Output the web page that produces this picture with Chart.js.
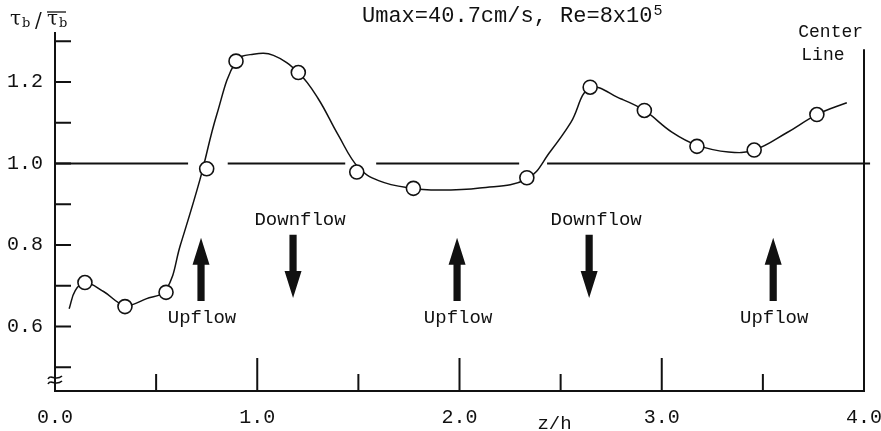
<!DOCTYPE html>
<html lang="en">
<head>
<meta charset="UTF-8">
<title>Wall shear stress distribution</title>
<script src="https://cdn.jsdelivr.net/npm/chart.js"></script>
<style>
    body { margin: 0; background: #fff; }
    .chart-box { width: 881px; height: 431px; position: relative; }
</style>
</head>
<body>
<div class="chart-box"><canvas id="shearChart"></canvas></div>
<script>
// measured points (z/h, tau_b / mean tau_b)
const measuredX = [0.148, 0.346, 0.549, 0.750, 0.895, 1.203, 1.492, 1.772, 2.333, 2.646, 2.914, 3.174, 3.457, 3.767];
const measuredY = [0.708, 0.649, 0.684, 0.987, 1.251, 1.223, 0.979, 0.939, 0.965, 1.187, 1.130, 1.042, 1.033, 1.120];

// hand-drawn fitted curve
const curveX = [0.07, 0.10, 0.148, 0.24, 0.346, 0.45, 0.549, 0.62, 0.717, 0.80, 0.895, 0.98, 1.08, 1.203, 1.30, 1.40,
                1.50, 1.60, 1.75, 1.90, 2.10, 2.333, 2.45, 2.55, 2.646, 2.80, 2.914, 3.05, 3.174, 3.33, 3.457, 3.62,
                3.767, 3.915];
const curveY = [0.644, 0.688, 0.708, 0.686, 0.652, 0.668, 0.690, 0.80, 0.961, 1.12, 1.251, 1.268, 1.265, 1.223, 1.16, 1.07,
                0.99, 0.958, 0.940, 0.935, 0.940, 0.962, 1.03, 1.10, 1.185, 1.158, 1.130, 1.077, 1.045, 1.028, 1.033, 1.076,
                1.120, 1.149];

// the 1.0 reference line is broken in a few places
const refSegments = [[0, 0.658], [0.854, 1.435], [1.588, 2.295], [2.433, 4.03]];
const centerLineX = 4.0;
const centerLineTop = 1.28;

const xLabels = [0, 1, 2, 3, 4];
const xMajorTicks = [1, 2, 3];
const xMinorTicks = [0.5, 1.5, 2.5, 3.5];
const yLabels = [0.6, 0.8, 1.0, 1.2];
const yTickMarks = [0.5, 0.6, 0.7, 0.8, 0.9, 1.0, 1.1, 1.2, 1.3];

const upflowX = [0.722, 1.988, 3.551];
const downflowX = [1.177, 2.641];
const arrowTop = 0.818;
const arrowBottom = 0.663;
const upflowLabelY = 0.622;
const downflowLabelY = 0.862;

const MONO = '"Liberation Mono", "DejaVu Sans Mono", monospace';

let refData = [];
refSegments.forEach((s, i) => {
    if (i > 0) refData.push({ x: (refSegments[i - 1][1] + s[0]) / 2, y: null });
    refData.push({ x: s[0], y: 1.0 }, { x: s[1], y: 1.0 });
});

function arrow(ctx, x, yTail, yTip) {
    const dir = yTip < yTail ? -1 : 1;
    const headLen = 27, headW = 8.5, shaftW = 3.6;
    const yNeck = yTip - dir * headLen;
    ctx.beginPath();
    ctx.moveTo(x - shaftW, yTail);
    ctx.lineTo(x - shaftW, yNeck);
    ctx.lineTo(x - headW, yNeck);
    ctx.lineTo(x, yTip);
    ctx.lineTo(x + headW, yNeck);
    ctx.lineTo(x + shaftW, yNeck);
    ctx.lineTo(x + shaftW, yTail);
    ctx.closePath();
    ctx.fill();
}

const figureExtras = {
    id: 'figureExtras',
    afterDatasetsDraw(chart) {
        const ctx = chart.ctx;
        const xs = chart.scales.x, ys = chart.scales.y;
        const area = chart.chartArea;
        ctx.save();
        ctx.strokeStyle = '#111';
        ctx.fillStyle = '#111';
        ctx.lineWidth = 2;

        // inward tick marks
        ctx.beginPath();
        yTickMarks.forEach(v => {
            const py = ys.getPixelForValue(v);
            ctx.moveTo(area.left, py);
            ctx.lineTo(area.left + 16, py);
        });
        xMajorTicks.forEach(v => {
            const px = xs.getPixelForValue(v);
            ctx.moveTo(px, area.bottom);
            ctx.lineTo(px, area.bottom - 33);
        });
        xMinorTicks.forEach(v => {
            const px = xs.getPixelForValue(v);
            ctx.moveTo(px, area.bottom);
            ctx.lineTo(px, area.bottom - 17);
        });
        ctx.stroke();

        // axis break mark
        ctx.lineWidth = 1.6;
        ctx.beginPath();
        [0, 5].forEach(d => {
            const bx = area.left, by = area.bottom - 13 + d;
            ctx.moveTo(bx - 7, by + 1);
            ctx.bezierCurveTo(bx - 4, by - 5, bx, by + 4, bx + 7, by - 2);
        });
        ctx.stroke();

        // flow arrows
        upflowX.forEach(v => arrow(ctx, xs.getPixelForValue(v), ys.getPixelForValue(arrowBottom), ys.getPixelForValue(arrowTop)));
        downflowX.forEach(v => arrow(ctx, xs.getPixelForValue(v), ys.getPixelForValue(arrowTop) - 3, ys.getPixelForValue(arrowBottom) - 3));

        ctx.font = '19px ' + MONO;
        ctx.textAlign = 'center';
        ctx.textBaseline = 'middle';
        upflowX.forEach(v => ctx.fillText('Upflow', xs.getPixelForValue(v) + 1, ys.getPixelForValue(upflowLabelY)));
        downflowX.forEach(v => ctx.fillText('Downflow', xs.getPixelForValue(v) + 7, ys.getPixelForValue(downflowLabelY)));

        // x axis name sits between the 2.0 and 3.0 labels
        ctx.fillText('z/h', xs.getPixelForValue(2.47), area.bottom + 33);

        // centre line label
        ctx.font = '18px ' + MONO;
        ctx.textAlign = 'left';
        ctx.fillText('Center', xs.getPixelForValue(3.675), ys.getPixelForValue(1.322));
        ctx.fillText('Line', xs.getPixelForValue(3.69), ys.getPixelForValue(1.265));

        // title
        ctx.font = '22px ' + MONO;
        const tx = xs.getPixelForValue(1.518), ty = 16;
        const main = 'Umax=40.7cm/s, Re=8x10';
        ctx.fillText(main, tx, ty);
        const w = ctx.measureText(main).width;
        ctx.font = '15px ' + MONO;
        ctx.fillText('5', tx + w + 1, ty - 5);

        // y axis title: tau_b / mean tau_b
        ctx.font = '20px "DejaVu Serif", serif';
        ctx.textBaseline = 'alphabetic';
        ctx.fillText('τ', 10, 25);
        ctx.fillText('τ', 47, 25);
        ctx.font = '13px "DejaVu Serif", serif';
        ctx.fillText('b', 22, 27);
        ctx.fillText('b', 59, 27);
        ctx.font = '20px "DejaVu Serif", serif';
        ctx.fillText('/', 35, 27);
        ctx.lineWidth = 1.3;
        ctx.beginPath();
        ctx.moveTo(47, 12);
        ctx.lineTo(66, 12);
        ctx.stroke();
        ctx.restore();
    }
};

new Chart(document.getElementById('shearChart'), {
    type: 'scatter',
    data: {
        datasets: [
            {
                label: 'measured',
                data: measuredX.map((x, i) => ({ x, y: measuredY[i] })),
                pointRadius: 7,
                pointBackgroundColor: '#fff',
                pointBorderColor: '#111',
                pointBorderWidth: 1.6,
                showLine: false
            },
            {
                label: 'fit',
                data: curveX.map((x, i) => ({ x, y: curveY[i] })),
                showLine: true,
                pointRadius: 0,
                borderColor: '#111',
                borderWidth: 1.5,
                tension: 0.4,
                clip: false
            },
            {
                label: 'tau = mean',
                data: refData,
                showLine: true,
                spanGaps: false,
                pointRadius: 0,
                borderColor: '#111',
                borderWidth: 2,
                clip: false
            },
            {
                label: 'center line',
                data: [{ x: centerLineX, y: 0.442 }, { x: centerLineX, y: centerLineTop }],
                showLine: true,
                pointRadius: 0,
                borderColor: '#111',
                borderWidth: 2,
                clip: false
            }
        ]
    },
    options: {
        responsive: true,
        maintainAspectRatio: false,
        animation: false,
        layout: { padding: { top: 33, right: 17, left: 0, bottom: 0 } },
        plugins: { legend: { display: false }, tooltip: { enabled: false }, title: { display: false } },
        scales: {
            x: {
                type: 'linear',
                min: 0,
                max: 4,
                afterBuildTicks: s => { s.ticks = xLabels.map(v => ({ value: v })); },
                afterFit: s => { s.height = 40; s.paddingLeft = 0; s.paddingRight = 0; },
                ticks: {
                    callback: v => v.toFixed(1),
                    font: { family: MONO, size: 20 },
                    color: '#111',
                    padding: 15,
                    maxRotation: 0,
                    autoSkip: false
                },
                grid: { display: false, drawTicks: false },
                border: { display: true, color: '#111', width: 2 }
            },
            y: {
                type: 'linear',
                min: 0.442,
                max: 1.32,
                afterBuildTicks: s => { s.ticks = yLabels.map(v => ({ value: v })); },
                afterFit: s => { s.width = 55; s.paddingTop = 0; s.paddingBottom = 0; },
                ticks: {
                    callback: v => v.toFixed(1),
                    font: { family: MONO, size: 20 },
                    color: '#111',
                    padding: 12
                },
                grid: { display: false, drawTicks: false },
                border: { display: true, color: '#111', width: 2 }
            }
        }
    },
    plugins: [figureExtras]
});
</script>
</body>
</html>
